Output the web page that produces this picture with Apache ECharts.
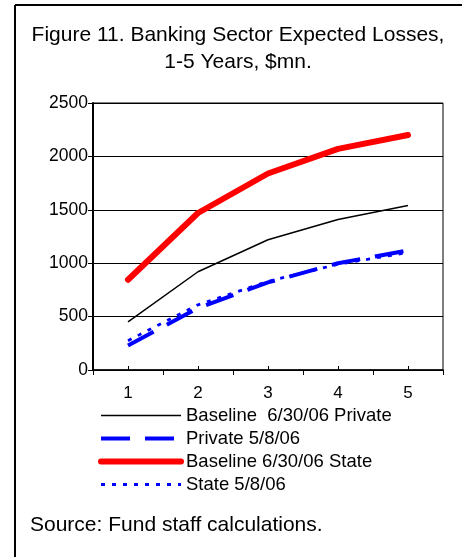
<!DOCTYPE html>
<html>
<head>
<meta charset="utf-8">
<script src="https://cdn.jsdelivr.net/npm/echarts@6/dist/echarts.min.js"></script>
<style>
  html, body { margin: 0; padding: 0; background: #fff; }
  #chart { width: 462px; height: 557px; }
</style>
</head>
<body>
<div id="chart"></div>
<script>
// Years ahead
const years = ['1', '2', '3', '4', '5'];

// Expected losses, $mn
const baselinePrivate = [450, 920, 1220, 1410, 1540];
const private0508 = [230, 580, 820, 1000, 1120];
const baselineState = [845, 1470, 1840, 2070, 2200];
const state0508 = [275, 610, 830, 990, 1100];

const seriesNames = [
  'Baseline  6/30/06 Private',
  'Private 5/8/06',
  'Baseline 6/30/06 State',
  'State 5/8/06'
];

const yTicks = { min: 0, max: 2500, interval: 500 };

const FONT = '"Liberation Sans", Arial, sans-serif';

// Line looks shared by each series and its legend entry
const styles = [
  { color: '#000000', width: 1.5, type: 'solid' },
  { color: '#0000ff', width: 4, type: [29, 15] },
  { color: '#ff0000', width: 6, type: 'solid', cap: 'round' },
  { color: '#0000ff', width: 2.8, type: [4, 7] }
];
const seriesData = [baselinePrivate, private0508, baselineState, state0508];
const zOrder = [3, 4, 5, 4];

const chart = echarts.init(document.getElementById('chart'), null, { renderer: 'canvas' });

chart.setOption({
  animation: false,
  backgroundColor: '#ffffff',
  title: {
    text: 'Figure 11. Banking Sector Expected Losses,\n1-5 Years, $mn.',
    left: 238,
    textAlign: 'center',
    top: 22,
    padding: 0,
    textStyle: {
      fontFamily: FONT,
      fontSize: 21,
      fontWeight: 'normal',
      color: '#000',
      lineHeight: 26.5
    }
  },
  graphic: [
    { type: 'line', shape: { x1: 15, y1: 5, x2: 462, y2: 5 }, style: { stroke: '#000', lineWidth: 2 } },
    { type: 'line', shape: { x1: 15, y1: 5, x2: 15, y2: 557 }, style: { stroke: '#000', lineWidth: 2 } },
    {
      type: 'text', left: 30, top: 515,
      style: { text: 'Source: Fund staff calculations.', font: '21px ' + FONT, fill: '#000' }
    }
  ],
  legend: {
    orient: 'vertical',
    left: 98,
    top: 406,
    padding: 0,
    itemWidth: 80,
    itemHeight: 18,
    itemGap: 4,
    itemStyle: { opacity: 0 },
    textStyle: { fontFamily: FONT, fontSize: 18.5, lineHeight: 18, color: '#000' },
    data: seriesNames.map((name, i) => ({
      name: name,
      itemStyle: { opacity: 0 },
      lineStyle: { color: styles[i].color, width: styles[i].width, type: styles[i].type, cap: styles[i].cap || 'butt', opacity: 1 }
    }))
  },
  grid: {
    left: 93, top: 103, right: 19, bottom: 187,
    show: true, borderColor: '#000', borderWidth: 1
  },
  xAxis: [
    {
      type: 'category',
      data: years,
      boundaryGap: true,
      position: 'bottom',
      axisLine: { lineStyle: { color: '#000', width: 1.5 } },
      axisTick: { show: true, length: 5, lineStyle: { color: '#000' } },
      axisLabel: { fontFamily: FONT, fontSize: 17, color: '#000', margin: 15 }
    },
    {
      type: 'category',
      data: years,
      boundaryGap: true,
      position: 'bottom',
      offset: 0,
      axisLine: { show: false },
      axisTick: { show: true, inside: true, alignWithLabel: true, length: 4, lineStyle: { color: '#000' } },
      axisLabel: { show: false }
    }
  ],
  yAxis: {
    type: 'value',
    min: yTicks.min,
    max: yTicks.max,
    interval: yTicks.interval,
    axisLine: { show: true, lineStyle: { color: '#000', width: 2 } },
    axisTick: { show: true, length: 5, lineStyle: { color: '#000' } },
    axisLabel: { fontFamily: FONT, fontSize: 17.5, color: '#000', margin: 5, formatter: v => String(v) },
    splitLine: { show: true, lineStyle: { color: '#000', width: 1 } }
  },
  series: seriesNames.map((name, i) => ({
    name: name,
    type: 'line',
    data: seriesData[i],
    symbol: 'none',
    z: zOrder[i],
    lineStyle: { color: styles[i].color, width: styles[i].width, type: styles[i].type, cap: styles[i].cap || 'butt' },
    itemStyle: { color: styles[i].color }
  }))
});
</script>
</body>
</html>
